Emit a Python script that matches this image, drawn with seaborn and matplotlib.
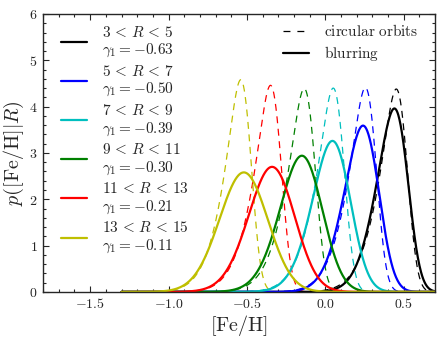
import numpy as np
import pandas as pd
import matplotlib
matplotlib.use("Agg")
import matplotlib.pyplot as plt
from matplotlib.lines import Line2D
from matplotlib.ticker import MultipleLocator, FuncFormatter
import seaborn as sns
from math import erf

sns.set_style("ticks")
plt.rcParams['mathtext.fontset'] = 'cm'
plt.rcParams['font.family'] = ['DejaVu Serif']
plt.rcParams['lines.scale_dashes'] = False

# values
r_lo = [3, 5, 7, 9, 11, 13]
r_hi = [5, 7, 9, 11, 13, 15]
gamma1 = [-0.63, -0.50, -0.39, -0.30, -0.21, -0.11]
colours = ['k', 'b', 'c', 'g', 'r', 'y']
# blurred distributions: mode and peak height
blur_mode = [0.44, 0.24, 0.045, -0.15, -0.34, -0.52]
blur_peak = [3.96, 3.59, 3.26, 2.94, 2.70, 2.58]
# circular orbits: mode and peak height
circ_mode = [0.452, 0.255, 0.05, -0.135, -0.35, -0.54]
circ_peak = [4.38, 4.41, 4.40, 4.39, 4.46, 4.58]

feh = np.linspace(-1.3, 0.7, 801)
zz = np.linspace(-8, 8, 16001)
phi = np.exp(-0.5 * zz**2) / np.sqrt(2 * np.pi)
Phi = np.vectorize(lambda v: 0.5 * (1 + erf(v / np.sqrt(2))))


def place(shape, mode, peak):
    # shape is a unit-area curve on zz; scale and shift it to mode/peak
    i = np.argmax(shape)
    w = shape[i] / peak
    loc = mode - zz[i] * w
    return np.interp((feh - loc) / w, zz, shape) / w


def skew_shape(g1):
    t = (abs(g1) / (0.5 * (4 - np.pi))) ** (1 / 3)
    u = t / np.sqrt(1 + t**2)
    d = np.sign(g1) * u / np.sqrt(2 / np.pi)
    a = 0.8 * d / np.sqrt(1 - d**2)
    return 2 * phi * Phi(a * zz)


circ_shape = phi * Phi((-1.0 - zz) / 0.25)
circ_shape = circ_shape / np.trapezoid(circ_shape, zz)

rows = []
for i in range(6):
    rows.append(pd.DataFrame({"feh": feh, "p": place(circ_shape, circ_mode[i], circ_peak[i]),
                              "bin": i, "kind": "circ"}))
    rows.append(pd.DataFrame({"feh": feh, "p": place(skew_shape(gamma1[i]), blur_mode[i], blur_peak[i]),
                              "bin": i, "kind": "blur"}))
df = pd.concat(rows)

fig = plt.figure(figsize=(4.4, 3.41), dpi=100)
ax = fig.add_axes([0.098, 0.144, 0.891, 0.815])

for i in range(6):
    d = df[(df["bin"] == i) & (df["kind"] == "circ")]
    sns.lineplot(data=d, x="feh", y="p", color=colours[i], lw=0.9,
                 linestyle=(0, (5, 4)), ax=ax, legend=False)
for i in range(6):
    d = df[(df["bin"] == i) & (df["kind"] == "blur")]
    sns.lineplot(data=d, x="feh", y="p", color=colours[i], lw=1.6, ax=ax, legend=False)

ax.set_xlim(-1.8, 0.7)
ax.set_ylim(0, 6)
ax.xaxis.set_major_locator(MultipleLocator(0.5))
ax.xaxis.set_minor_locator(MultipleLocator(0.1))
ax.yaxis.set_major_locator(MultipleLocator(1))
ax.yaxis.set_minor_locator(MultipleLocator(0.2))
ax.xaxis.set_major_formatter(FuncFormatter(lambda v, p: r'$%.1f$' % v))
ax.yaxis.set_major_formatter(FuncFormatter(lambda v, p: r'$%d$' % v))
ax.tick_params(which='both', direction='in', top=True, right=True, labelsize=10, width=0.8)
ax.tick_params(which='major', length=4.5, pad=4)
ax.tick_params(which='minor', length=2.2)
for s in ax.spines.values():
    s.set_linewidth(1.0)
ax.set_xlabel(r'$[\mathrm{Fe/H}]$', fontsize=14.5, labelpad=1)
ax.set_ylabel(r'$p([\mathrm{Fe/H}]|R)$', fontsize=14.5, labelpad=2)

handles = [Line2D([], [], color=colours[i], lw=1.6) for i in range(6)]
labels = [r'$%d\,<\,R\,<\,%d$' % (r_lo[i], r_hi[i]) + '\n' + r'$\gamma_1 = %.2f$' % gamma1[i]
          for i in range(6)]
leg1 = ax.legend(handles, labels, loc='upper left', bbox_to_anchor=(0.046, 0.962), frameon=False,
                 fontsize=11, handlelength=1.7, handletextpad=1.0, labelspacing=0.28,
                 borderpad=0, borderaxespad=0)
ax.add_artist(leg1)
h2 = [Line2D([], [], color='k', lw=0.9, linestyle=(0, (5, 5))), Line2D([], [], color='k', lw=1.6)]
ax.legend(h2, [r'$\mathrm{circular\ orbits}$', r'$\mathrm{blurring}$'], loc='upper left',
          bbox_to_anchor=(0.612, 0.968), frameon=False, fontsize=11, handlelength=1.7,
          handletextpad=1.0, labelspacing=0.35, borderpad=0, borderaxespad=0)

fig.savefig("out.png", dpi=100)
